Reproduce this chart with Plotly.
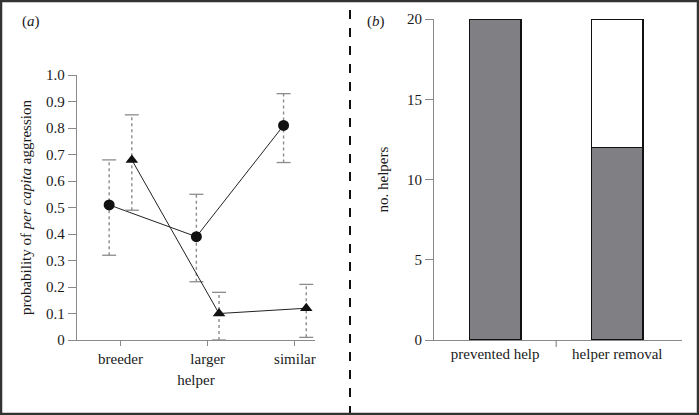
import plotly.graph_objects as go

# Panel (a) data
helper_types = ["breeder", "larger", "similar"]
circle_vals = [0.51, 0.39, 0.81]
circle_lo = [0.32, 0.22, 0.67]
circle_hi = [0.68, 0.55, 0.93]
tri_vals = [0.68, 0.10, 0.12]
tri_lo = [0.49, 0.00, 0.01]
tri_hi = [0.85, 0.18, 0.21]

# Panel (b) data
experiments = ["prevented help", "helper removal"]
helped = [20, 12]
not_helped = [0, 8]

FONT = "Liberation Serif, Times New Roman, serif"
AX = "#8a8a8a"
ERR = "#8c8c8c"
OFF = 0.13

fig = go.Figure()

def add_series(vals, lo, hi, offset, symbol):
    xs = [i + offset for i in range(len(vals))]
    # dotted whiskers
    wx, wy = [], []
    for x, l, h in zip(xs, lo, hi):
        wx += [x, x, None]
        wy += [l, h, None]
    fig.add_trace(go.Scatter(x=wx, y=wy, mode="lines", line=dict(color=ERR, width=1.4, dash="dot"),
                             xaxis="x", yaxis="y", showlegend=False, hoverinfo="skip", cliponaxis=False))
    # caps
    fig.add_trace(go.Scatter(x=xs + xs, y=list(lo) + list(hi), mode="markers",
                             marker=dict(symbol="line-ew-open", size=10, color=ERR,
                                         line=dict(color=ERR, width=1.3)),
                             xaxis="x", yaxis="y", showlegend=False, hoverinfo="skip", cliponaxis=False))
    fig.add_trace(go.Scatter(
        x=xs, y=vals, mode="lines+markers",
        line=dict(color="#222", width=1),
        marker=dict(symbol=symbol, size=11, color="#111"),
        xaxis="x", yaxis="y", showlegend=False, cliponaxis=False))

add_series(circle_vals, circle_lo, circle_hi, -OFF, "circle")
add_series(tri_vals, tri_lo, tri_hi, OFF, "triangle-up")

fig.add_trace(go.Bar(x=[0, 1], y=helped, marker=dict(color="#808084", line=dict(color="#111", width=1.5)),
                     width=0.42, xaxis="x2", yaxis="y2", showlegend=False))
fig.add_trace(go.Bar(x=[0, 1], y=not_helped, marker=dict(color="#ffffff", line=dict(color="#111", width=1.5)),
                     width=0.42, xaxis="x2", yaxis="y2", showlegend=False))

tickfont = dict(family=FONT, size=15, color="#1a1a1a")
fig.update_layout(
    width=699, height=415,
    margin=dict(l=0, r=0, t=0, b=0, pad=0, autoexpand=False),
    paper_bgcolor="white", plot_bgcolor="white",
    barmode="stack",
    font=dict(family=FONT, size=15, color="#1a1a1a"),
    xaxis=dict(domain=[0.110, 0.4506], range=[-0.5, 2.23], automargin=False,
               tickvals=[0, 1, 2], ticktext=helper_types,
               showline=True, linecolor=AX, linewidth=1.2,
               ticks="outside", ticklen=5, tickcolor=AX,
               showgrid=False, zeroline=False, tickfont=tickfont,
               title=dict(text="helper", font=tickfont, standoff=8)),
    yaxis=dict(domain=[0.1807, 0.819], range=[0, 1.0], automargin=False,
               tickvals=[i / 10 for i in range(11)],
               ticktext=["0"] + [f"{i/10:.1f}" for i in range(1, 11)],
               showline=True, linecolor=AX, linewidth=1.2,
               ticks="outside", ticklen=8, tickcolor=AX,
               showgrid=False, zeroline=False, tickfont=tickfont,
               title=dict(text="probability of <i>per capita</i> aggression", font=tickfont, standoff=10)),
    xaxis2=dict(domain=[0.621, 0.9757], range=[-0.5, 1.53], automargin=False,
                tickvals=[0, 1], ticktext=experiments,
                showline=True, linecolor=AX, linewidth=1.2,
                ticks="", showgrid=False, zeroline=False, tickfont=tickfont, anchor="y2"),
    yaxis2=dict(domain=[0.1807, 0.954], range=[0, 20], automargin=False,
                tickvals=[0, 5, 10, 15, 20],
                showline=True, linecolor=AX, linewidth=1.2,
                ticks="outside", ticklen=8, tickcolor=AX,
                showgrid=False, zeroline=False, tickfont=tickfont, anchor="x2",
                title=dict(text="no. helpers", font=tickfont, standoff=14)),
    shapes=[
        dict(type="line", xref="x2", yref="paper", x0=0.5, x1=0.5, y0=0.1807, y1=0.1807 - 7/415,
             line=dict(color=AX, width=1.2)),
        dict(type="line", xref="paper", yref="paper", x0=350/699, x1=350/699, y0=0, y1=1,
             line=dict(color="#111", width=2, dash="dash")),
        dict(type="rect", xref="paper", yref="paper", x0=1/699, x1=698/699, y0=1/415, y1=414/415,
             line=dict(color="#333", width=2.5)),
    ],
    annotations=[
        dict(text="(<i>a</i>)", xref="paper", yref="paper", x=20/699, y=1 - 21/415,
             xanchor="left", yanchor="middle", showarrow=False, font=tickfont),
        dict(text="(<i>b</i>)", xref="paper", yref="paper", x=365/699, y=1 - 21/415,
             xanchor="left", yanchor="middle", showarrow=False, font=tickfont),
    ],
)

fig.write_html("out.html", config={"displayModeBar": False},
               post_script="document.body.style.margin='0';document.body.style.overflow='hidden';")
